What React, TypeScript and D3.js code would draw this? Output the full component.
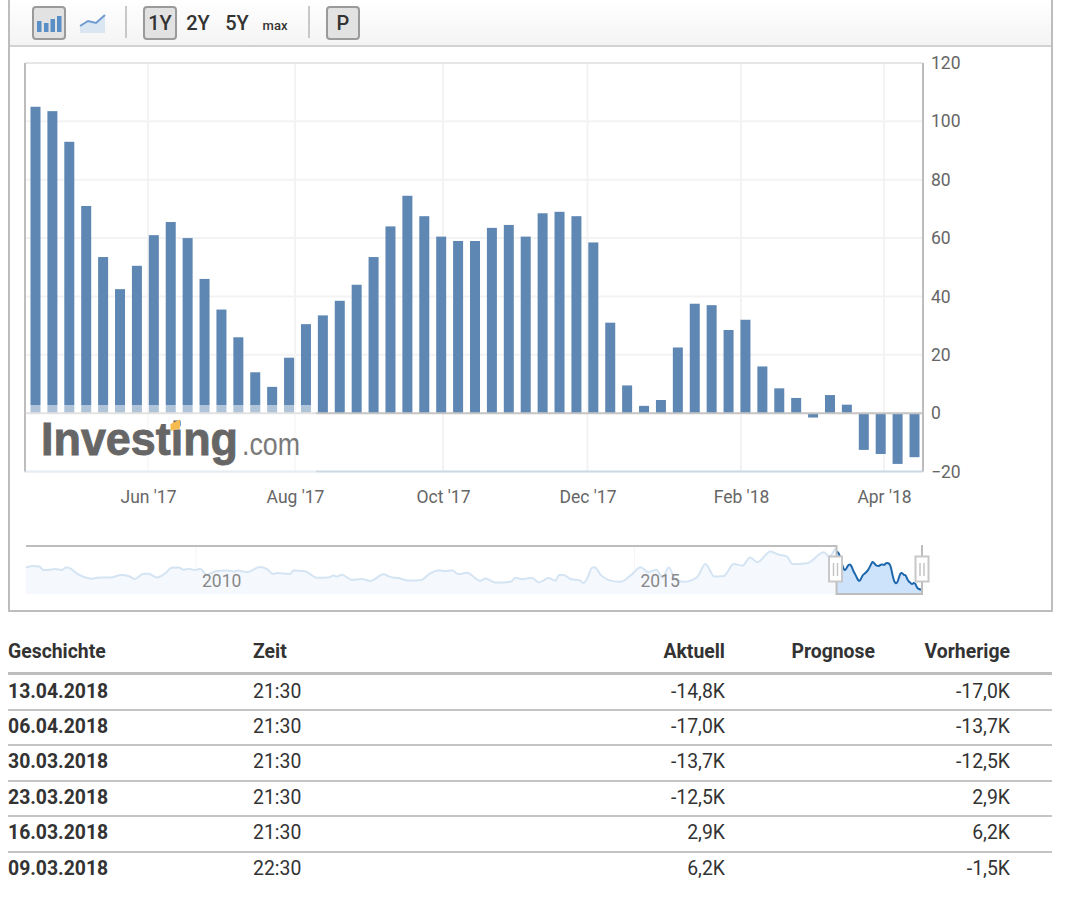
import * as d3 from "d3";
import React, { useRef, useEffect } from "react";

// weekly values, newest last (last bar = 13.04.2018)
const lastWeek = new Date(2018, 3, 13);
const weeklyValues = [
  105, 103.5, 93, 71, 53.5, 42.5, 50.5, 61, 65.5, 60,
  46, 35.5, 26, 14, 9, 19, 30.5, 33.5, 38.5, 44,
  53.5, 64, 74.5, 67.5, 60.5, 59, 59, 63.5, 64.5, 60.5,
  68.5, 69, 67.5, 58.5, 31, 9.5, 2.5, 4.5, 22.5, 37.5,
  37, 28.5, 32, 16, 8.5, 5.2, -1.5, 6.2, 2.9, -12.6,
  -14, -17.4, -15.1,
];
const yTicks = [-20, 0, 20, 40, 60, 80, 100, 120];
const monthTicks = [
  new Date(2017, 5, 1), new Date(2017, 7, 1), new Date(2017, 9, 1),
  new Date(2017, 11, 1), new Date(2018, 1, 1), new Date(2018, 3, 1),
];

// navigator history before the selected range
const navYears = [
  2008.06, 2008.14, 2008.21, 2008.26, 2008.33, 2008.39, 2008.47, 2008.52, 2008.56, 2008.64,
  2008.81, 2008.87, 2008.94, 2009.02, 2009.15, 2009.23, 2009.30, 2009.40, 2009.46, 2009.55,
  2009.65, 2009.72, 2009.80, 2009.86, 2009.91, 2009.99, 2010.05, 2010.12, 2010.24, 2010.35,
  2010.43, 2010.48, 2010.58, 2010.73, 2010.81, 2010.88, 2010.92, 2011.07, 2011.11, 2011.24,
  2011.38, 2011.51, 2011.57, 2011.61, 2011.66, 2011.78, 2011.89, 2011.99, 2012.14, 2012.21,
  2012.31, 2012.42, 2012.56, 2012.67, 2012.77, 2012.84, 2012.92, 2012.99, 2013.09, 2013.24,
  2013.30, 2013.41, 2013.51, 2013.60, 2013.64, 2013.72, 2013.83, 2013.91, 2014.02, 2014.10,
  2014.14, 2014.19, 2014.27, 2014.38, 2014.42, 2014.46, 2014.52, 2014.55, 2014.61, 2014.73,
  2014.84, 2014.97, 2015.07, 2015.16, 2015.25, 2015.32, 2015.39, 2015.47, 2015.56, 2015.71,
  2015.81, 2015.91, 2016.02, 2016.13, 2016.23, 2016.32, 2016.40, 2016.55, 2016.65, 2016.74,
  2016.80, 2016.97, 2017.16, 2017.22, 2017.29,
];
const navValues = [
  54, 59, 57, 46, 47, 49, 46, 54, 52, 35,
  18, 21, 22, 22, 30, 27, 17, 34, 34, 22,
  35, 53, 54, 47, 50, 46, 50, 30, 43, 44,
  41, 44, 39, 56, 49, 33, 36, 33, 44, 42,
  21, 22, 28, 25, 31, 14, 17, 11, 32, 24,
  20, 12, 13, 35, 45, 42, 45, 33, 37, 11,
  19, 6, 6, 10, 21, 16, 21, 6, 20, 12,
  30, 30, 17, 12, 4, 19, 54, 54, 32, 12,
  8, 32, 55, 39, 47, 21, 54, 14, 8, 22,
  65, 25, 27, 65, 60, 86, 71, 105, 95, 89,
  65, 68, 103, 89, 116,
];
const navLabels = [2010, 2015];

// table below the chart
const tableDates = ["13.04.2018", "06.04.2018", "30.03.2018", "23.03.2018", "16.03.2018", "09.03.2018"];
const tableTimes = ["21:30", "21:30", "21:30", "21:30", "21:30", "22:30"];
const tableActual = ["-14,8K", "-17,0K", "-13,7K", "-12,5K", "2,9K", "6,2K"];
const tablePrevious = ["-17,0K", "-13,7K", "-12,5K", "2,9K", "6,2K", "-1,5K"];
const rowBaselines = [697.5, 732.5, 768, 803.5, 838.5, 874.5];
const rowLines = [710, 745, 781, 816, 852];

const font = "Roboto, sans-serif";

const App: React.FC = () => {
  const svgRef = useRef<SVGSVGElement>(null);

  useEffect(() => {
    const svg = d3.select(svgRef.current);
    svg.selectAll("*").remove();

    const plotLeft = 25, plotRight = 923, plotTop = 63, plotBottom = 471.5;
    const weekDates = weeklyValues.map((_, i) =>
      d3.timeDay.offset(lastWeek, -7 * (weeklyValues.length - 1 - i)));

    const xBar = d3.scaleTime().domain([weekDates[0], lastWeek]).range([35.5, 914.5]);
    // the chart's month ticks are not quite evenly spaced
    const xTick = d3.scaleTime().domain(monthTicks).range([148, 295, 443, 587.5, 741, 884]);
    const y = d3.scaleLinear().domain([-20, 120]).range([plotBottom, plotTop]);

    // outer box and toolbar
    const grad = svg.append("defs").append("linearGradient")
      .attr("id", "bar-bg").attr("x1", 0).attr("x2", 0).attr("y1", 0).attr("y2", 1);
    grad.append("stop").attr("offset", 0).attr("stop-color", "#ffffff");
    grad.append("stop").attr("offset", 1).attr("stop-color", "#f4f4f4");

    svg.append("rect").attr("x", 9).attr("y", -4).attr("width", 1043).attr("height", 615)
      .attr("fill", "white").attr("stroke", "#bdbdbd").attr("stroke-width", 2);
    svg.append("rect").attr("x", 10).attr("y", 0).attr("width", 1041).attr("height", 45)
      .attr("fill", "url(#bar-bg)");
    svg.append("line").attr("x1", 10).attr("x2", 1051).attr("y1", 46).attr("y2", 46)
      .attr("stroke", "#d2d2d2").attr("stroke-width", 2);

    const toolbar = svg.append("g");
    const button = (x: number, w: number) => toolbar.append("rect")
      .attr("x", x).attr("y", 7).attr("width", w).attr("height", 32).attr("rx", 3)
      .attr("fill", "#e2e2e2").attr("stroke", "#9a9a9a").attr("stroke-width", 2);
    button(33, 32);
    button(144, 32);
    button(327, 32);
    [126, 309].forEach(x => toolbar.append("line")
      .attr("x1", x).attr("x2", x).attr("y1", 6).attr("y2", 38)
      .attr("stroke", "#c8c8c8").attr("stroke-width", 2));
    [[37, 21, 11], [44, 23, 9], [50.5, 19, 13], [57, 16, 16]].forEach(([x, top, h]) => {
      toolbar.append("rect").attr("x", x).attr("y", top).attr("width", 4.5).attr("height", h)
        .attr("fill", "#5a8ec6");
    });
    toolbar.append("path").attr("d", "M80,26 L88,21 L96,23 L105,15 L105,33 L80,33 Z").attr("fill", "#dbe6f3");
    toolbar.append("path").attr("d", "M80,26 L88,21 L96,23 L105,15").attr("fill", "none")
      .attr("stroke", "#6d9bd0").attr("stroke-width", 2);
    [["1Y", 160, 20], ["2Y", 198, 20], ["5Y", 237, 20], ["max", 275, 13], ["P", 343, 20]].forEach(([t, x, s]) => {
      toolbar.append("text").attr("x", x as number).attr("y", 29.5)
        .attr("text-anchor", "middle").attr("font-family", font).attr("font-weight", 500)
        .attr("font-size", s as number).attr("fill", "#333").text(t as string);
    });

    // grid
    svg.append("g").selectAll("line").data(yTicks.filter(t => t !== 0 && t !== -20 && t !== 120)).join("line")
      .attr("x1", plotLeft).attr("x2", plotRight)
      .attr("y1", d => y(d)).attr("y2", d => y(d))
      .attr("stroke", "#f3f3f3").attr("stroke-width", 2);
    svg.append("g").selectAll("line").data(monthTicks).join("line")
      .attr("x1", d => xTick(d)).attr("x2", d => xTick(d))
      .attr("y1", plotTop).attr("y2", plotBottom)
      .attr("stroke", "#f3f3f3").attr("stroke-width", 2);

    // frame
    svg.append("line").attr("x1", plotLeft).attr("x2", plotRight).attr("y1", plotTop).attr("y2", plotTop)
      .attr("stroke", "#e6e6e6").attr("stroke-width", 2);
    svg.append("line").attr("x1", plotLeft).attr("x2", plotRight).attr("y1", plotBottom).attr("y2", plotBottom)
      .attr("stroke", "#ccd9e4").attr("stroke-width", 2);
    svg.append("line").attr("x1", plotLeft).attr("x2", plotLeft).attr("y1", plotTop).attr("y2", plotBottom)
      .attr("stroke", "#bdbdbd").attr("stroke-width", 2);
    svg.append("line").attr("x1", plotRight).attr("x2", plotRight).attr("y1", plotTop).attr("y2", plotBottom)
      .attr("stroke", "#bdbdbd").attr("stroke-width", 2);

    // bars
    svg.append("g").selectAll("rect").data(weeklyValues).join("rect")
      .attr("x", (_, i) => xBar(weekDates[i]) - 5)
      .attr("width", 10)
      .attr("y", d => y(Math.max(d, 0)))
      .attr("height", d => Math.abs(y(d) - y(0)))
      .attr("fill", "#5f87b3");

    svg.append("line").attr("x1", plotLeft).attr("x2", plotRight).attr("y1", y(0)).attr("y2", y(0))
      .attr("stroke", "#c4c4c4").attr("stroke-width", 2);

    // watermark
    svg.append("rect").attr("x", plotLeft + 1).attr("y", 405).attr("width", 290).attr("height", 67.5)
      .attr("fill", "white").attr("fill-opacity", 0.5);
    svg.append("text").attr("x", 41).attr("y", 455)
      .attr("font-family", "Liberation Sans").attr("font-weight", 700).attr("font-size", 47)
      .attr("textLength", 197).attr("lengthAdjust", "spacingAndGlyphs")
      .attr("fill", "#666").attr("stroke", "#666").attr("stroke-width", 0.9).text("Investing");
    svg.append("text").attr("x", 242).attr("y", 455)
      .attr("font-family", "Liberation Sans").attr("font-size", 31)
      .attr("textLength", 58).attr("lengthAdjust", "spacingAndGlyphs")
      .attr("fill", "#7a7a7a").text(".com");
    svg.append("path").attr("d", "M170.5,424 L180,419.5 L180,428.5 L170.5,431 Z").attr("fill", "#f6bb4f");

    // axes
    svg.append("g")
      .attr("transform", `translate(${plotRight},0)`)
      .call(d3.axisRight(y).tickValues(yTicks).tickSize(0).tickPadding(8).tickFormat(d3.format("d")))
      .call(g => g.select(".domain").remove())
      .call(g => g.selectAll("text").attr("font-family", font).attr("font-size", 17.5).attr("fill", "#666"));

    svg.append("g")
      .attr("transform", `translate(0,${plotBottom})`)
      .call(d3.axisBottom(xTick).tickValues(monthTicks).tickSize(0).tickPadding(19)
        .tickFormat(d => d3.timeFormat("%b '%y")(d as Date)))
      .call(g => g.select(".domain").remove())
      .call(g => g.selectAll("text").attr("font-family", font).attr("font-size", 17.5).attr("fill", "#666"));

    // navigator
    const navTop = 546, navBottom = 594;
    const navX = d3.scaleLinear().domain([2010, 2015]).range([196, 634.5]);
    const navY = d3.scaleLinear().domain([-31, 123]).range([navBottom, navTop]);
    const selLeft = 836.5, selRight = 922;
    const recentX = d3.scaleTime().domain([weekDates[0], lastWeek]).range([selLeft, selRight]);
    const history: [number, number][] = navYears.map((yr, i) => [navX(yr), navValues[i]]);
    const recent: [number, number][] = weekDates.map((d, i) => [recentX(d), weeklyValues[i]]);

    const historyLine = d3.line<[number, number]>().x(d => d[0]).y(d => navY(d[1])).curve(d3.curveMonotoneX);
    const historyArea = d3.area<[number, number]>().x(d => d[0]).y0(navBottom).y1(d => navY(d[1])).curve(d3.curveMonotoneX);
    const recentLine = d3.line<[number, number]>().x(d => d[0]).y(d => navY(d[1])).curve(d3.curveBasis);
    const recentArea = d3.area<[number, number]>().x(d => d[0]).y0(navBottom).y1(d => navY(d[1])).curve(d3.curveBasis);

    svg.append("g").selectAll("line").data(navLabels).join("line")
      .attr("x1", d => navX(d)).attr("x2", d => navX(d))
      .attr("y1", navTop).attr("y2", navBottom)
      .attr("stroke", "#f6f6f6");
    svg.append("path").datum(history).attr("d", historyArea).attr("fill", "#f5f9fe");
    svg.append("path").datum(history).attr("d", historyLine).attr("fill", "none")
      .attr("stroke", "#d4e4f3").attr("stroke-width", 2);
    svg.append("g").selectAll("text").data(navLabels).join("text")
      .attr("x", d => navX(d) + 6).attr("y", 587)
      .attr("font-family", font).attr("font-size", 17.5).attr("fill", "#888")
      .text(d => d);

    svg.append("path").datum(recent).attr("d", recentArea).attr("fill", "#cde2fb");
    svg.append("path").datum(recent).attr("d", recentLine).attr("fill", "none")
      .attr("stroke", "#1d67ac").attr("stroke-width", 2);

    svg.append("path")
      .attr("d", `M26,${navTop} H${selLeft} V${navBottom} H${selRight} V${navTop - 1}`)
      .attr("fill", "none").attr("stroke", "#bdbdbd").attr("stroke-width", 2);
    [selLeft - 1, selRight].forEach(x => {
      svg.append("rect").attr("x", x - 6.5).attr("y", 556.5).attr("width", 13).attr("height", 25)
        .attr("fill", "white").attr("stroke", "#c8c8c8").attr("stroke-width", 2);
      [-2, 2].forEach(dx => svg.append("line")
        .attr("x1", x + dx).attr("x2", x + dx).attr("y1", 563).attr("y2", 576)
        .attr("stroke", "#c4c4c4").attr("stroke-width", 1.5));
    });

    // table
    const table = svg.append("g").attr("font-family", font).attr("fill", "#333");
    const headers: [string, number, string][] = [
      ["Geschichte", 8, "start"], ["Zeit", 253, "start"], ["Aktuell", 725, "end"],
      ["Prognose", 875, "end"], ["Vorherige", 1010, "end"],
    ];
    headers.forEach(([t, x, anchor]) => table.append("text")
      .attr("x", x).attr("y", 658).attr("text-anchor", anchor)
      .attr("font-size", 19.4).attr("font-weight", 700).text(t));
    table.append("line").attr("x1", 8).attr("x2", 1052).attr("y1", 673.5).attr("y2", 673.5)
      .attr("stroke", "#bdbdbd").attr("stroke-width", 3);
    table.selectAll("line.row").data(rowLines).join("line").attr("class", "row")
      .attr("x1", 8).attr("x2", 1052).attr("y1", d => d).attr("y2", d => d)
      .attr("stroke", "#c4c4c4").attr("stroke-width", 2);

    const column = (values: string[], x: number, anchor: string, weight: number, size: number) => {
      values.forEach((t, i) => table.append("text")
        .attr("x", x).attr("y", rowBaselines[i]).attr("text-anchor", anchor)
        .attr("font-size", size).attr("font-weight", weight).text(t));
    };
    column(tableDates, 8, "start", 700, 19.4);
    column(tableTimes, 253, "start", 400, 19.4);
    column(tableActual, 725, "end", 400, 19.4);
    column(tablePrevious, 1010, "end", 400, 19.4);
  }, []);

  return <svg ref={svgRef} width={1080} height={898}
    style={{ position: "absolute", left: 0, top: 0 }}></svg>;
};

export default App;
